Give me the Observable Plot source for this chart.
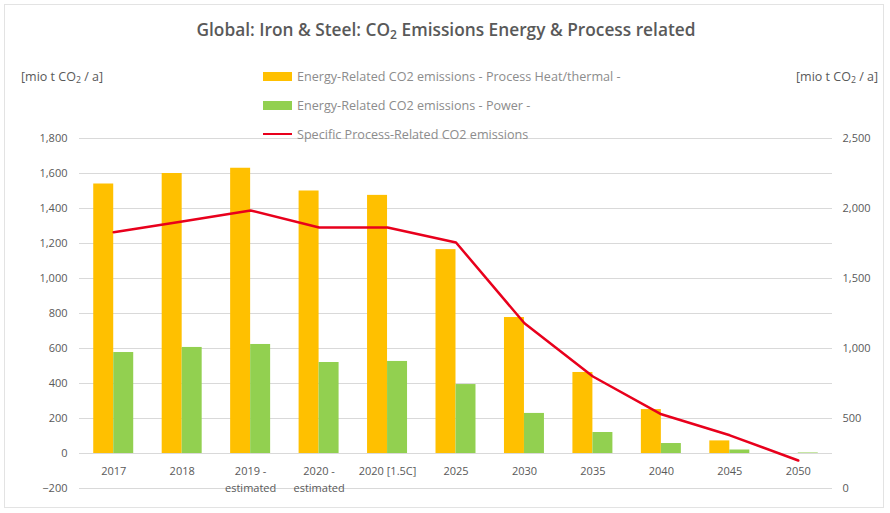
<!DOCTYPE html>
<html><head><meta charset="utf-8">
<script src="https://cdn.jsdelivr.net/npm/d3@7"></script>
<script src="https://cdn.jsdelivr.net/npm/@observablehq/plot@0.6"></script>
<style>
body{margin:0;background:#fff;font-family:"Open Sans",sans-serif;}
#chart{position:relative;width:890px;height:513px;overflow:hidden;background:#fff}
#frame{position:absolute;left:4px;top:4px;width:880px;height:504px;border:1px solid #e3e3e3;box-sizing:border-box;pointer-events:none}
#chart svg{position:absolute;left:0;top:0}
.title{position:absolute;left:1px;top:18px;width:890px;text-align:center;font-size:17.3px;font-weight:600;color:#595959;white-space:nowrap}
.unit{position:absolute;top:68px;font-size:12.5px;color:#595959;white-space:nowrap}
.leg{position:absolute;left:263px;font-size:12.6px;color:#8c8c8c;white-space:nowrap;display:flex;align-items:center;height:16px}
.sw{display:inline-block;width:29px;height:9px;margin-right:5px}
.ln{display:inline-block;width:29px;height:2.5px;margin-right:5px;background:#e8001c}
sub{font-size:70%;vertical-align:-0.25em;line-height:0}
</style></head><body><div id="chart"></div>
<script>
const categories = ["2017","2018","2019 -\nestimated","2020 -\nestimated","2020 [1.5C]","2025","2030","2035","2040","2045","2050"];
const processHeat = [1540,1600,1630,1500,1475,1165,777,463,251,72,0];
const power = [577,606,623,520,526,394,229,120,57,20,3];
const processRelated = [1830,1907,1986,1864,1864,1757,1180,800,530,380,200];
const leftTicks = [-200,0,200,400,600,800,1000,1200,1400,1600,1800];
const rightTicks = [0,500,1000,1500,2000,2500];
const seriesNames = ["Energy-Related CO2 emissions - Process Heat/thermal -","Energy-Related CO2 emissions - Power -","Specific Process-Related CO2 emissions"];
const colors = ["#FFC000","#92D050","#e8001c"];

const toLeft = v => v / 1.25 - 200;
const toRight = v => (v + 200) * 1.25;
const rows = categories.map((c, i) => ({cat: c, heat: processHeat[i], power: power[i], proc: processRelated[i]}));
const fmt = d3.format(",");
const txt = "#595959";

const plot = Plot.plot({
  width: 890, height: 513,
  marginTop: 138, marginBottom: 25, marginLeft: 79, marginRight: 58,
  style: {fontFamily: "Open Sans", fontSize: "11px", color: txt, background: "transparent"},
  x: {domain: categories, type: "band", paddingInner: 0.708, paddingOuter: 0.354, round: false, axis: null},
  y: {domain: [-200, 1800]},
  marks: [
    Plot.gridY(leftTicks, {stroke: "#d9d9d9", strokeOpacity: 1}),
    Plot.barY(rows, {x: "cat", y: "heat", fill: colors[0], dx: -10}),
    Plot.barY(rows, {x: "cat", y: "power", fill: colors[1], dx: 10}),
    Plot.line(rows, {x: "cat", y: d => toLeft(d.proc), stroke: colors[2], strokeWidth: 2.5, curve: "linear", strokeLinejoin: "round"}),
    Plot.axisY(leftTicks, {anchor: "left", tickSize: 0, tickPadding: 12, tickFormat: fmt, fill: txt, fontSize: 11, label: null}),
    Plot.axisY(rightTicks.map(toLeft), {anchor: "right", tickSize: 0, tickPadding: 10, tickFormat: d => fmt(Math.round(toRight(d))), fill: txt, fontSize: 11, label: null}),
    Plot.text(rows, {x: "cat", y: 0, text: "cat", dy: 10, lineAnchor: "top", fill: txt, fontSize: 11, lineHeight: 1.5})
  ]
});

const chart = document.getElementById("chart");
chart.appendChild(plot);
chart.insertAdjacentHTML("beforeend", `
<div id="frame"></div>
<div class="title">Global: Iron &amp; Steel: CO<sub>2</sub> Emissions Energy &amp; Process related</div>
<div class="unit" style="left:21px">[mio t CO<sub>2</sub> / a]</div>
<div class="unit" style="left:796px">[mio t CO<sub>2</sub> / a]</div>
<div class="leg" style="top:68px"><span class="sw" style="background:${colors[0]}"></span>${seriesNames[0]}</div>
<div class="leg" style="top:97px"><span class="sw" style="background:${colors[1]}"></span>${seriesNames[1]}</div>
<div class="leg" style="top:126px"><span class="ln"></span>${seriesNames[2]}</div>
`);
</script></body></html>
